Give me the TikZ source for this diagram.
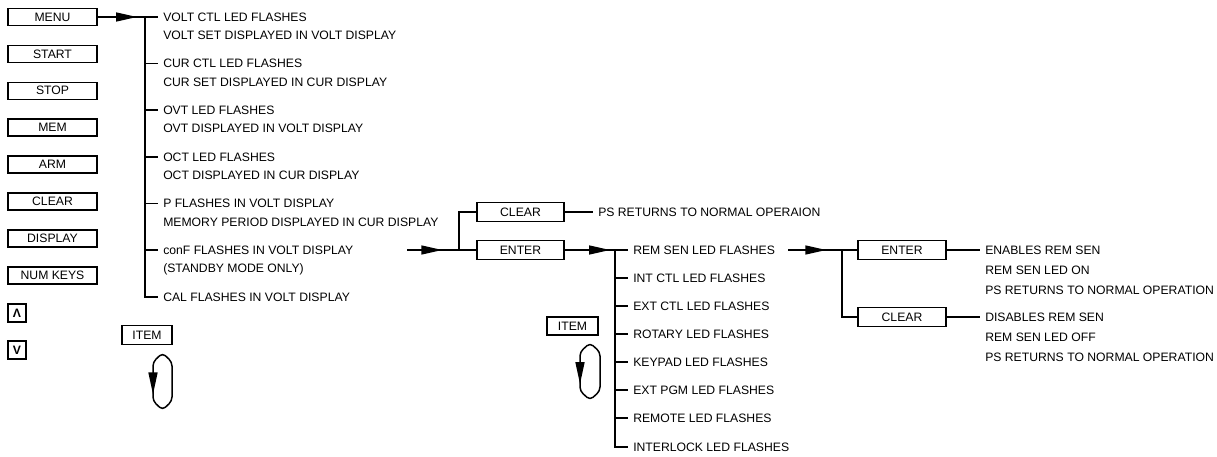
\documentclass[tikz,border=0pt]{standalone}
\usepackage{fontspec}
\setmainfont{Liberation Sans}
\usetikzlibrary{arrows.meta, positioning, decorations.markings}

\begin{document}
\begin{tikzpicture}[
    x=1pt, y=-1pt,
    line width=1.5pt,
    font=\fontsize{12.2}{14}\selectfont,
    key/.style={draw, minimum width=89pt, minimum height=17pt, inner sep=0pt},
    midkey/.style={key, minimum width=87pt, minimum height=19pt},
    smallkey/.style={draw, minimum width=18pt, minimum height=18pt, inner sep=0pt, font=\fontsize{12.2}{14}\selectfont\bfseries},
    txt/.style={anchor=west, inner xsep=4.5pt, inner ysep=0pt, text height=8.6pt, text depth=0pt},
    midarrow/.style={decoration={markings, mark=at position #1 with {\arrow{Triangle[length=21pt, width=9pt]}}}, postaction={decorate}},
    looparrow/.style={decoration={markings, mark=at position #1 with {\arrow{Triangle[length=22pt, width=9pt]}}}, postaction={decorate}}
]
    \useasboundingbox (0,0) rectangle (1217,457);

    \foreach \name/\label [count=\i from 0] in {menu/MENU, start/START, stop/STOP, mem/MEM, arm/ARM, clearkey/CLEAR, display/DISPLAY, numkeys/NUM KEYS}
        \node[key] (\name) at (52.5,17+36.9*\i) {\label};
    \node[smallkey] (up) at (17,313) {Λ};
    \node[smallkey] (down) at (17,350) {V};

    \node[txt] (volt) at (158,17) {VOLT CTL LED FLASHES};
    \node[txt] (voltb) at (158,35.5) {VOLT SET DISPLAYED IN VOLT DISPLAY};
    \node[txt] (cur) at (158,63.5) {CUR CTL LED FLASHES};
    \node[txt] (curb) at (158,82) {CUR SET DISPLAYED IN CUR DISPLAY};
    \node[txt] (ovt) at (158,110) {OVT LED FLASHES};
    \node[txt] (ovtb) at (158,128.5) {OVT DISPLAYED IN VOLT DISPLAY};
    \node[txt] (oct) at (158,157) {OCT LED FLASHES};
    \node[txt] (octb) at (158,175.5) {OCT DISPLAYED IN CUR DISPLAY};
    \node[txt] (pfl) at (158,203.5) {P FLASHES IN VOLT DISPLAY};
    \node[txt] (pflb) at (158,222) {MEMORY PERIOD DISPLAYED IN CUR DISPLAY};
    \node[txt] (conf) at (158,250) {conF FLASHES IN VOLT DISPLAY};
    \node[txt] (confb) at (158,268.5) {(STANDBY MODE ONLY)};
    \node[txt] (cal) at (158,297) {CAL FLASHES IN VOLT DISPLAY};

    \coordinate (mj) at (145,17);
    \draw[midarrow=-21pt] (menu) -- (volt.west);
    \draw (mj) |- (cal.west);
    \foreach \n in {cur, ovt, oct, pfl, conf}
        \draw (mj |- \n.west) -- (\n.west);

    \node[draw, minimum width=50pt, minimum height=19pt, inner sep=0pt] (item) at (147,335) {ITEM};
    \draw[looparrow=41pt, rounded corners=4pt] (162.5,353) -- (153,362) -- (153,401) -- (162.5,410) -- (172,401) -- (172,362) -- cycle;

    \node[midkey] (clr) at (520.5,212) {CLEAR};
    \node[midkey] (ent) at (520.5,250) {ENTER};
    \node[txt] (psret) at (593,212) {PS RETURNS TO NORMAL OPERAION};
    \coordinate (c0) at (407,250);
    \coordinate (cj) at (459,250);
    \draw[midarrow=-34pt] (c0) -- (ent);
    \draw (cj) |- (clr);
    \draw (clr) -- (psret.west);

    \node[txt] (remsen) at (628,250) {REM SEN LED FLASHES};
    \node[txt] (intctl) at (628,278) {INT CTL LED FLASHES};
    \node[txt] (extctl) at (628,306) {EXT CTL LED FLASHES};
    \node[txt] (rotary) at (628,334) {ROTARY LED FLASHES};
    \node[txt] (keypad) at (628,362) {KEYPAD LED FLASHES};
    \node[txt] (extpgm) at (628,390) {EXT PGM LED FLASHES};
    \node[txt] (remote) at (628,418) {REMOTE LED FLASHES};
    \node[txt] (interlock) at (628,447) {INTERLOCK LED FLASHES};
    \coordinate (ej) at (615,250);
    \draw[midarrow=-18pt] (ent) -- (remsen.west);
    \draw (ej) |- (interlock.west);
    \foreach \n in {intctl, extctl, rotary, keypad, extpgm, remote}
        \draw (ej |- \n.west) -- (\n.west);

    \node[draw, minimum width=51pt, minimum height=18pt, inner sep=0pt] (item2) at (572.5,326) {ITEM};
    \draw[looparrow=41pt, rounded corners=4pt] (590,343) -- (580,352) -- (580,391) -- (590,400) -- (600,391) -- (600,352) -- cycle;

    \node[midkey, minimum width=88pt] (enter2) at (902,250) {ENTER};
    \node[midkey, minimum width=88pt] (clear2) at (902,317) {CLEAR};
    \coordinate (r0) at (788,250);
    \coordinate (rj) at (842,250);
    \draw[midarrow=-31pt] (r0) -- (enter2);
    \draw (rj) |- (clear2);

    \node[txt] (ena) at (980,250) {ENABLES REM SEN};
    \node[txt] (enab) at (980,270) {REM SEN LED ON};
    \node[txt] (enac) at (980,290) {PS RETURNS TO NORMAL OPERATION};
    \node[txt] (dis) at (980,317) {DISABLES REM SEN};
    \node[txt] (disb) at (980,337) {REM SEN LED OFF};
    \node[txt] (disc) at (980,357) {PS RETURNS TO NORMAL OPERATION};
    \draw (enter2) -- (ena.west);
    \draw (clear2) -- (dis.west);
\end{tikzpicture}
\end{document}
